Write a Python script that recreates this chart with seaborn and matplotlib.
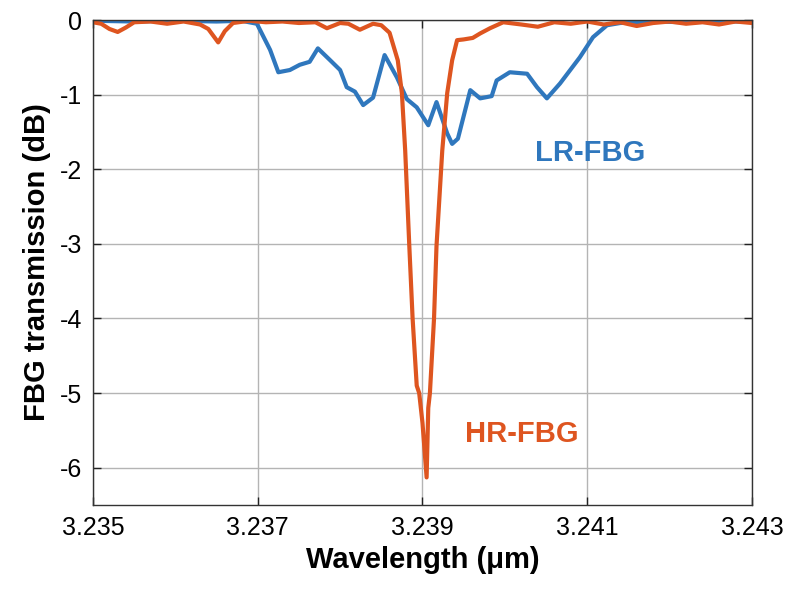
import matplotlib
matplotlib.use("Agg")
import matplotlib.pyplot as plt
import seaborn as sns
import pandas as pd

# ---- data ----
hr_wl = [3.2350, 3.2351, 3.2352, 3.2353, 3.2354, 3.2355, 3.2357, 3.2359, 3.2361,
         3.2363, 3.2364, 3.23652, 3.2366, 3.2367, 3.2369, 3.2371, 3.2373, 3.2375,
         3.2377, 3.23784, 3.2380, 3.2381, 3.23824, 3.2384, 3.2385, 3.23860,
         3.23870, 3.23875, 3.23879, 3.23884, 3.23888, 3.23893, 3.23896, 3.23900,
         3.23905, 3.23907, 3.23909, 3.23914, 3.23917, 3.23924, 3.23930, 3.23936,
         3.23942, 3.2395, 3.23961, 3.2397, 3.23982, 3.23998, 3.2402, 3.2404,
         3.2406, 3.2408, 3.2410, 3.2412, 3.2414, 3.2416, 3.2418, 3.2420, 3.2422,
         3.2424, 3.2426, 3.2428, 3.2430]
hr_db = [-0.03, -0.05, -0.12, -0.16, -0.10, -0.03, -0.02, -0.05, -0.02,
         -0.06, -0.12, -0.30, -0.15, -0.04, -0.01, -0.03, -0.02, -0.04,
         -0.03, -0.11, -0.04, -0.05, -0.13, -0.05, -0.07, -0.17,
         -0.54, -0.98, -1.75, -3.03, -4.00, -4.90, -5.00, -5.40,
         -6.13, -5.20, -5.00, -4.00, -3.03, -1.75, -0.98, -0.54,
         -0.27, -0.26, -0.24, -0.18, -0.11, -0.03, -0.06, -0.09,
         -0.03, -0.05, -0.02, -0.06, -0.03, -0.08, -0.04, -0.02, -0.05,
         -0.03, -0.06, -0.02, -0.04]

lr_wl = [3.2350, 3.2355, 3.2360, 3.2365, 3.2368, 3.23699, 3.23715, 3.23725,
         3.23739, 3.23751, 3.23763, 3.23773, 3.23788, 3.23800, 3.23808, 3.23818,
         3.23828, 3.23840, 3.23854, 3.23869, 3.23881, 3.23893, 3.23907, 3.23917,
         3.23930, 3.23936, 3.23943, 3.23958, 3.23970, 3.23984, 3.23990, 3.24006,
         3.24027, 3.24039, 3.24051, 3.24067, 3.24091, 3.24107, 3.24124, 3.24140,
         3.2418, 3.2422, 3.2426, 3.2430]
lr_db = [-0.01, -0.02, -0.01, -0.02, -0.01, -0.05, -0.40, -0.70,
         -0.67, -0.60, -0.56, -0.38, -0.54, -0.67, -0.90, -0.96,
         -1.14, -1.04, -0.47, -0.77, -1.06, -1.17, -1.41, -1.10,
         -1.52, -1.66, -1.59, -0.94, -1.05, -1.02, -0.81, -0.70,
         -0.72, -0.90, -1.05, -0.85, -0.50, -0.23, -0.07, -0.04,
         -0.02, -0.03, -0.02, -0.02]

x_ticks = [3.235, 3.237, 3.239, 3.241, 3.243]
x_tick_labels = ["3.235", "3.237", "3.239", "3.241", "3.243"]
y_ticks = [0, -1, -2, -3, -4, -5, -6]
y_tick_labels = ["0", "-1", "-2", "-3", "-4", "-5", "-6"]

BLUE = "#2f77bd"
ORANGE = "#de5520"

sns.set_style("whitegrid")
plt.rcParams["font.family"] = ["Liberation Sans", "DejaVu Sans"]

fig = plt.figure(figsize=(7.9, 5.94), dpi=100)
ax = fig.add_axes([0.1177, 0.1498, 0.8342, 0.8165])

df_lr = pd.DataFrame({"wl": lr_wl, "db": lr_db})
df_hr = pd.DataFrame({"wl": hr_wl, "db": hr_db})
sns.lineplot(data=df_lr, x="wl", y="db", ax=ax, color=BLUE, linewidth=3.0, estimator=None)
sns.lineplot(data=df_hr, x="wl", y="db", ax=ax, color=ORANGE, linewidth=3.0, estimator=None)

ax.set_xlim(3.235, 3.243)
ax.set_ylim(-6.5, 0)
ax.set_xticks(x_ticks)
ax.set_xticklabels(x_tick_labels)
ax.set_yticks(y_ticks)
ax.set_yticklabels(y_tick_labels)
ax.tick_params(labelsize=18, direction="in", length=6, width=1, color="#222222",
               labelcolor="black", top=True, right=True, bottom=True, left=True, pad=8)
ax.grid(True, color="#b4b4b4", lw=1.0)
ax.set_facecolor("white")
for s in ax.spines.values():
    s.set_color("#333333")
    s.set_linewidth(1.0)
    s.set_visible(True)

ax.set_xlabel("Wavelength (\u03bcm)", fontsize=21, fontweight="bold", labelpad=4, color="black")
ax.set_ylabel("FBG transmission (dB)", fontsize=21, fontweight="bold", labelpad=6, color="black")

ax.text(3.24103, -1.78, "LR-FBG", color=BLUE, fontsize=21, fontweight="bold",
        ha="center", va="center")
ax.text(3.24021, -5.55, "HR-FBG", color=ORANGE, fontsize=21, fontweight="bold",
        ha="center", va="center")

fig.savefig("out.png", dpi=100)
